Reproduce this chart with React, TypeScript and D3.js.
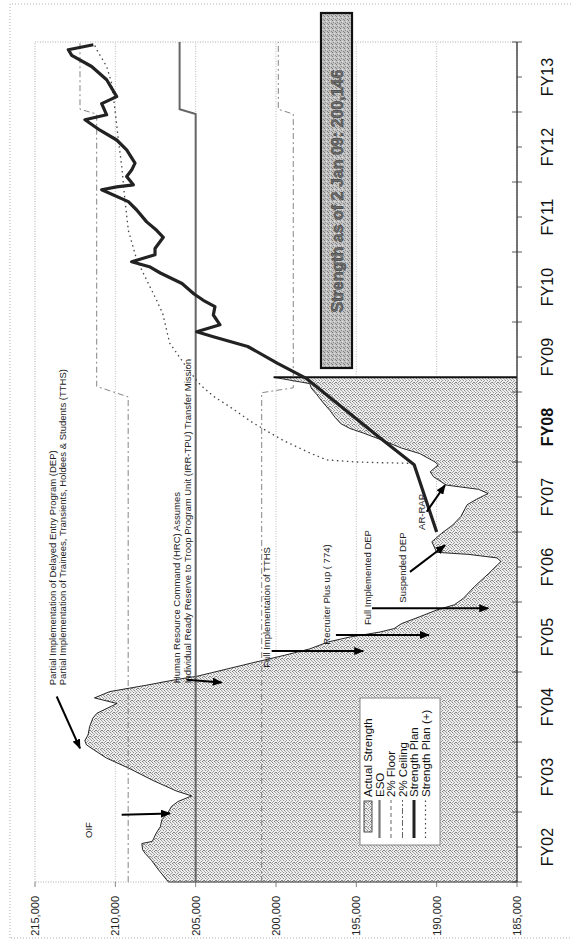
import React from 'react';
import * as d3 from 'd3';

// ---------- data ----------
const fiscalYearLabels = ['FY02','FY03','FY04','FY05','FY06','FY07','FY08','FY09','FY10','FY11','FY12','FY13'];
const valueTicks = [185000, 190000, 195000, 200000, 205000, 210000, 215000];
const gridValues = [190000, 195000, 200000, 205000, 210000];

// [fiscal year (FY02 start = 2002.0), strength]
const actualStrength: [number, number][] = [
  [2002.00, 206700],[2002.20, 207400],[2002.31, 207750],[2002.41, 208150],[2002.46, 208300],
  [2002.55, 208350],[2002.58, 207700],[2002.70, 207450],[2002.79, 207200],[2002.89, 207100],
  [2002.98, 206750],[2003.08, 206500],[2003.15, 206100],[2003.23, 205250],[2003.30, 206200],
  [2003.45, 207650],[2003.63, 209200],[2003.77, 210550],[2003.89, 211350],[2003.96, 211800],
  [2004.02, 211900],[2004.10, 211700],[2004.22, 211600],[2004.34, 211400],[2004.41, 211150],
  [2004.55, 209900],[2004.63, 211300],[2004.72, 210350],[2004.81, 208100],[2004.89, 206250],
  [2004.94, 204900],[2004.99, 204000],[2005.04, 203100],[2005.14, 201300],[2005.24, 199450],
  [2005.33, 197900],[2005.43, 196750],[2005.50, 195400],[2005.57, 193550],[2005.62, 192650],
  [2005.69, 192200],[2005.79, 191050],[2005.89, 189950],[2005.96, 188900],[2006.05, 188350],
  [2006.22, 187650],[2006.41, 186750],[2006.58, 186000],[2006.63, 186250],[2006.68, 188000],
  [2006.71, 190000],[2006.86, 190300],[2006.98, 189700],[2007.10, 189000],[2007.22, 188500],
  [2007.39, 188100],[2007.47, 187500],[2007.55, 186800],[2007.61, 187400],[2007.67, 189400],
  [2007.79, 190200],[2007.86, 190400],[2007.96, 189900],[2008.00, 190100],[2008.12, 191050],
  [2008.20, 192200],[2008.31, 193370],[2008.41, 194520],[2008.48, 195410],[2008.55, 195980],
  [2008.64, 196330],[2008.74, 196660],[2008.86, 197110],[2008.96, 197450],[2009.05, 197790],
  [2009.12, 197900],[2009.21, 200146],
];

const esoLine: [number, number][] = [[2002, 205000],[2012.97, 205000],[2013.04, 206000],[2014, 206000]];
const floorLine: [number, number][] = [[2002, 200890],[2008.99, 200890],[2009.06, 198925],[2012.97, 198925],[2013.04, 199857],[2014, 199857]];
const ceilingLine: [number, number][] = [[2002, 209200],[2008.93, 209200],[2009.08, 211160],[2012.97, 211160],[2013.04, 212200],[2014, 212200]];

const strengthPlan: [number, number][] = [
  [2007.00, 190000],[2007.96, 191400],[2008.34, 193500],[2009.19, 198090],[2009.41, 199900],
  [2009.65, 201760],[2009.79, 203900],[2009.86, 204935],[2009.96, 203485],[2010.10, 203900],
  [2010.22, 203800],[2010.31, 204525],[2010.40, 205100],[2010.55, 205850],[2010.70, 207200],
  [2010.79, 207880],[2010.86, 208985],[2010.96, 207530],[2011.05, 207530],[2011.21, 207015],
  [2011.31, 207430],[2011.43, 208050],[2011.60, 208670],[2011.72, 209190],[2011.89, 210850],
  [2011.93, 209915],[2011.96, 208880],[2012.08, 209295],[2012.17, 208985],[2012.27, 208775],
  [2012.46, 209295],[2012.60, 209915],[2012.74, 210955],[2012.89, 211890],[2012.96, 210540],
  [2013.12, 210850],[2013.22, 209915],[2013.46, 210540],[2013.65, 211475],[2013.81, 212715],
  [2013.89, 212925],[2013.96, 211370],
];

const strengthPlanPlus: [number, number][] = [
  [2007.98, 191455],[2007.99, 193500],[2008.00, 195000],[2008.03, 196850],[2008.13, 197900],
  [2008.31, 199570],[2008.56, 201440],[2008.79, 202880],[2008.94, 203900],[2009.10, 204700],
  [2009.29, 205370],[2009.70, 206620],[2010.12, 207050],[2010.31, 207430],[2010.60, 208050],
  [2010.89, 208670],[2011.31, 209190],[2011.74, 209400],[2012.22, 209600],[2012.60, 209810],
  [2013.03, 210020],[2013.41, 210225],[2013.65, 210540],[2013.89, 211160],[2013.96, 211300],
];

const annotationTexts = [
  'OIF',
  'Partial Implementation of Delayed Entry Program (DEP)',
  'Partial Implementation of Trainees, Transients, Holdees & Students (TTHS)',
  'Human Resource Command (HRC) Assumes',
  'Individual Ready Reserve to Troop Program Unit (IRR-TPU) Transfer Mission',
  'Full Implementation of TTHS',
  'Recruiter Plus up ( 774)',
  'Full Implemented DEP',
  'Suspended DEP',
  'AR-RAP',
];
const annotationAt: [number, number][] = [
  [2002.63, 211450],[2004.81, 213700],[2004.81, 213040],[2004.84, 205975],[2004.84, 205260],
  [2005.06, 200375],[2005.39, 196640],[2005.67, 194090],[2005.99, 191910],[2007.03, 190730],
];
const arrowFrom: [number, number][] = [
  [2002.96, 209605],[2004.65, 213650],[2004.89, 205560],[2005.30, 200270],
  [2005.53, 196270],[2005.91, 194025],[2006.43, 191660],[2007.29, 190620],
];
const arrowTo: [number, number][] = [
  [2002.98, 206600],[2003.91, 212200],[2004.85, 203380],[2005.30, 194570],
  [2005.53, 190480],[2005.91, 186790],[2006.81, 189480],[2007.67, 189480],
];

const legendLabels = ['Actual Strength', 'ESO', '2% Floor', '2% Ceiling', 'Strength Plan', 'Strength Plan (+)'];
const statusText = 'Strength as of 2 Jan 09: 200,146';

// ---------- chart ----------
const FONT = "'Liberation Sans', Arial, Helvetica, sans-serif";

// scattered dot positions for the stipple tile (texture only)
const stippleDots: [number, number, string][] = [
  [0, 0, '#7d7d7d'], [3, 0, '#a8a8a8'], [2, 1, '#8e8e8e'], [5, 1, '#9a9a9a'], [0, 2, '#a2a2a2'],
  [4, 2, '#858585'], [1, 3, '#959595'], [3, 3, '#b0b0b0'], [5, 4, '#7a7a7a'], [2, 4, '#9a9a9a'],
  [0, 5, '#8a8a8a'], [4, 5, '#a5a5a5'],
];

export default function App() {
  const x = d3.scaleLinear().domain([2002, 2014]).range([59, 899]);
  const y = d3.scaleLinear().domain([185000, 215000]).range([517, 35]);
  const line = d3.line<[number, number]>().x(d => x(d[0])).y(d => y(d[1]));
  const area = d3.area<[number, number]>().x(d => x(d[0])).y0(y(185000)).y1(d => y(d[1]));
  const last = actualStrength[actualStrength.length - 1];
  const first = actualStrength[0];
  const halfYears = d3.range(2002, 2014.001, 0.5);

  const legendStyles = [
    null,
    { stroke: '#777', w: 2.2, dash: undefined },
    { stroke: '#666', w: 1, dash: '4,3' },
    { stroke: '#666', w: 1, dash: '6,2,2,2' },
    { stroke: '#222', w: 3, dash: undefined },
    { stroke: '#444', w: 1.2, dash: '1.5,3' },
  ];

  return (
    <svg width={571} height={941} style={{ position: 'absolute', left: 0, top: 0, background: '#fff' }} fontFamily={FONT}>
      <defs>
        <pattern id="stip" width="6" height="6" patternUnits="userSpaceOnUse">
          <rect width="6" height="6" fill="#ededed" />
          {stippleDots.map(([dx, dy, c], i) => <rect key={i} x={dx} y={dy} width="1" height="1" fill={c} />)}
        </pattern>
        <pattern id="stipDark" width="4" height="4" patternUnits="userSpaceOnUse">
          <rect width="4" height="4" fill="#c2c2c2" />
          <rect x="0" y="0" width="1" height="1" fill="#7a7a7a" />
          <rect x="2" y="1" width="1" height="1" fill="#8a8a8a" />
          <rect x="1" y="3" width="1" height="1" fill="#808080" />
          <rect x="3" y="2" width="1" height="1" fill="#e4e4e4" />
        </pattern>
        <marker id="ah" viewBox="0 0 10 8" refX="9" refY="4" markerWidth="10" markerHeight="8" markerUnits="userSpaceOnUse" orient="auto">
          <path d="M0,0 L10,4 L0,8 z" fill="#000" />
        </marker>
      </defs>
      <rect width={571} height={941} fill="#fff" />
      <g transform="translate(0,941) rotate(-90)">
        {/* outer border */}
        <rect x={3} y={10} width={934} height={600} fill="none" stroke="#999" strokeDasharray="1,2" strokeWidth={0.8} />
        {/* gridlines */}
        {gridValues.map(v => (
          <line key={v} x1={x(2002)} x2={x(2014)} y1={y(v)} y2={y(v)} stroke="#aaa" strokeWidth={0.8} strokeDasharray="1,1.5" />
        ))}
        {/* plot frame */}
        <rect x={x(2002)} y={y(215000)} width={x(2014) - x(2002)} height={y(185000) - y(215000)} fill="none" stroke="#999" strokeWidth={0.8} strokeDasharray="1,1.5" />
        {/* actual strength area */}
        <path d={area(actualStrength) || ''} fill="url(#stip)" stroke="none" />
        <path d={line(actualStrength) || ''} fill="none" stroke="#111" strokeWidth={0.9} />
        <line x1={x(last[0])} x2={x(last[0])} y1={y(last[1])} y2={y(185000)} stroke="#111" strokeWidth={2} />
        <line x1={x(first[0])} x2={x(first[0])} y1={y(first[1])} y2={y(185000)} stroke="#333" strokeWidth={1} />
        {/* ESO / floor / ceiling */}
        <path d={line(esoLine) || ''} fill="none" stroke="#666" strokeWidth={2} />
        <path d={line(floorLine) || ''} fill="none" stroke="#777" strokeWidth={0.9} strokeDasharray="6,3,2,3" />
        <path d={line(ceilingLine) || ''} fill="none" stroke="#777" strokeWidth={0.9} strokeDasharray="6,3,2,3" />
        {/* strength plan (+) */}
        <path d={line(strengthPlanPlus) || ''} fill="none" stroke="#444" strokeWidth={1.3} strokeDasharray="1.5,3.5" />
        {/* strength plan */}
        <path d={line(strengthPlan) || ''} fill="none" stroke="#222" strokeWidth={3.2} strokeLinejoin="round" />

        {/* time axis */}
        <line x1={x(2002)} x2={x(2014)} y1={y(185000)} y2={y(185000)} stroke="#222" strokeWidth={1.2} />
        {halfYears.map(t => {
          const major = Math.abs(t - Math.round(t)) < 1e-6;
          return <line key={t} x1={x(t)} x2={x(t)} y1={y(185000) - (major ? 5 : 0)} y2={y(185000) + 5} stroke="#333" strokeWidth={0.8} />;
        })}
        {fiscalYearLabels.map((lab, i) => (
          <text key={lab} x={x(2002 + i + 0.5)} y={553} textAnchor="middle" fontSize={16} fontWeight={lab === 'FY08' ? 'bold' : 'normal'} fill="#111">{lab}</text>
        ))}
        {/* value axis */}
        {valueTicks.map(v => (
          <g key={v}>
            <line x1={x(2002) - 5} x2={x(2002)} y1={y(v)} y2={y(v)} stroke="#666" strokeWidth={0.8} />
            <text x={45} y={y(v)} dy="0.35em" textAnchor="end" fontSize={11} fill="#222">{d3.format(',')(v)}</text>
          </g>
        ))}

        {/* annotations */}
        {annotationTexts.map((t, i) => (
          <text key={t} x={x(annotationAt[i][0])} y={y(annotationAt[i][1])} fontSize={9.5} fill="#222">{t}</text>
        ))}
        {arrowFrom.map((f, i) => (
          <line key={i} x1={x(f[0])} y1={y(f[1])} x2={x(arrowTo[i][0])} y2={y(arrowTo[i][1])} stroke="#000" strokeWidth={2} markerEnd="url(#ah)" />
        ))}

        {/* status box */}
        <rect x={573} y={321} width={355} height={31} fill="url(#stipDark)" stroke="#111" strokeWidth={2.2} />
        <text x={750} y={337} dy="0.36em" textAnchor="middle" fontSize={16} fontWeight="bold" fill="#6a6a6a" stroke="#333" strokeWidth={0.4}>{statusText}</text>

        {/* legend */}
        <rect x={96} y={360} width={147} height={80} fill="#fff" stroke="#888" strokeWidth={1} />
        {legendLabels.map((lab, i) => {
          const by = 372 + i * 11.5;
          const cy = by - 4;
          const st = legendStyles[i];
          return (
            <g key={lab}>
              {i === 0 ? (
                <rect x={109} y={cy - 4} width={31} height={8} fill="url(#stip)" stroke="#222" strokeWidth={0.8} />
              ) : (
                <line x1={103} x2={141} y1={cy} y2={cy} stroke={st!.stroke} strokeWidth={st!.w} strokeDasharray={st!.dash} />
              )}
              <text x={144} y={by} fontSize={11.5} fill="#111">{lab}</text>
            </g>
          );
        })}
      </g>
    </svg>
  );
}
